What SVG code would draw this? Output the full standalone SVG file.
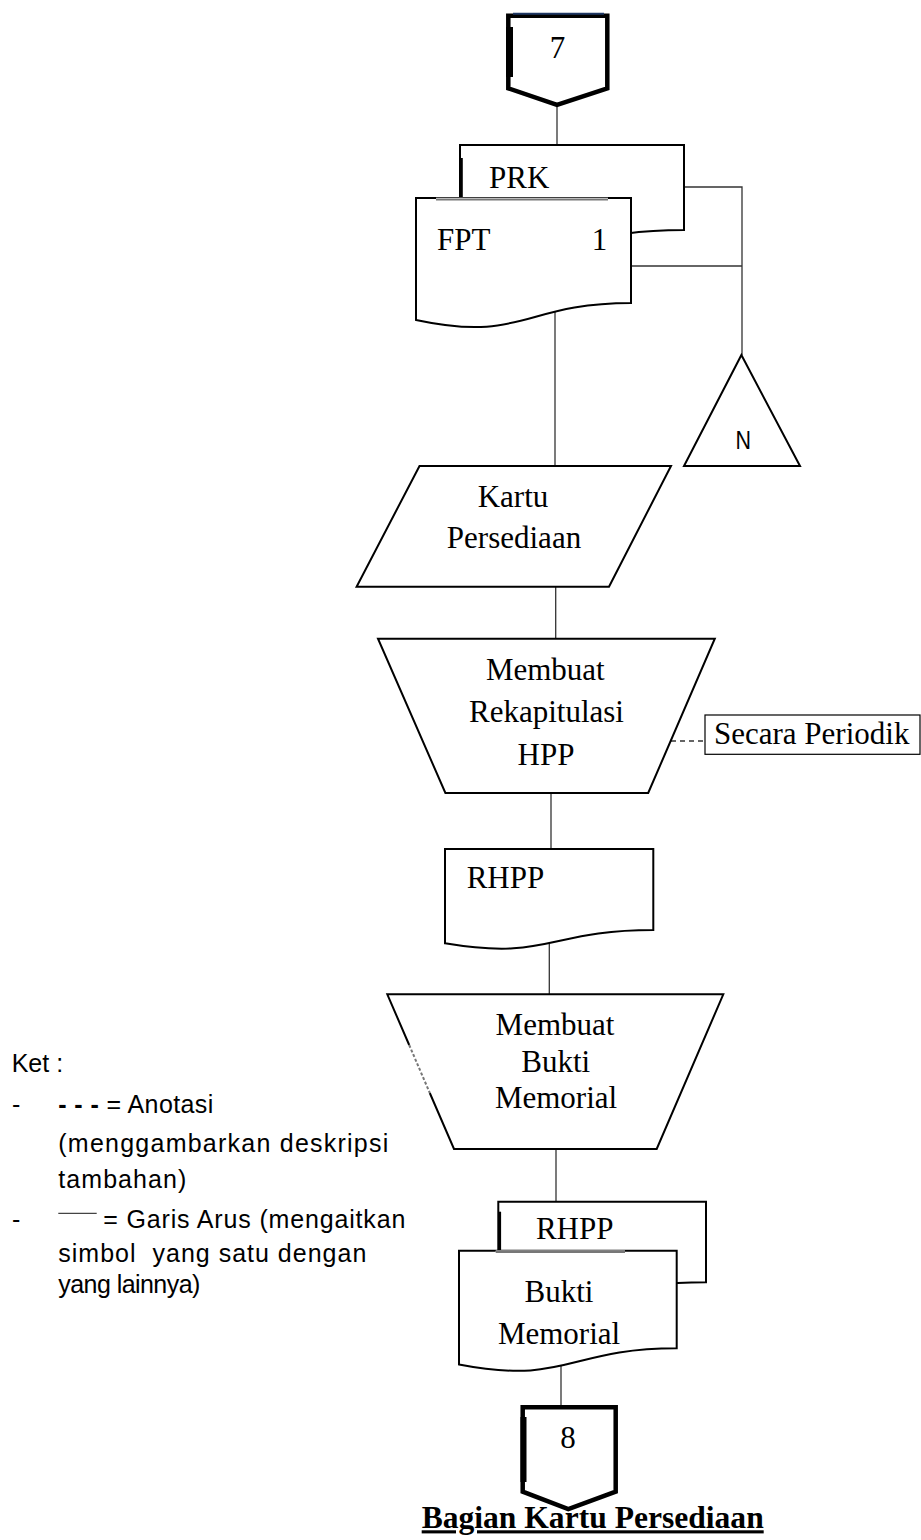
<svg xmlns="http://www.w3.org/2000/svg" width="921" height="1540" viewBox="0 0 921 1540">
<style>
.shape{fill:#fff;stroke:#000;stroke-width:2;stroke-linejoin:miter}
.conn{fill:none;stroke:#000;stroke-width:4.5;stroke-linejoin:miter}
.ln{fill:none;stroke:#333;stroke-width:1.3}
.gray{fill:none;stroke:#777;stroke-width:2}
.t{font-family:"Liberation Serif","Times New Roman",serif;font-size:31px;fill:#000}
.c{text-anchor:middle}
.leg{font-family:"Liberation Sans",Arial,sans-serif;font-size:25px;fill:#000}
</style>
<rect width="921" height="1540" fill="#fff"/>
<g id="connectors">
<line class="ln" x1="557" y1="105" x2="557" y2="145"/>
<polyline class="ln" points="684,187 742,187 742,355"/>
<line class="ln" x1="631" y1="266" x2="742" y2="266"/>
<line class="ln" x1="555" y1="305" x2="555" y2="466"/>
<line class="ln" x1="555.7" y1="587" x2="555.7" y2="639"/>
<line class="ln" x1="551" y1="793" x2="551" y2="849"/>
<line class="ln" x1="549.3" y1="935" x2="549.3" y2="994.3"/>
<line class="ln" x1="556" y1="1149" x2="556" y2="1201.7"/>
<line class="ln" x1="561" y1="1360" x2="561" y2="1407"/>
<line class="ln" x1="671" y1="741" x2="705" y2="741" stroke-dasharray="5,4"/>
</g>
<g id="n7">
<path class="conn" d="M508.3,15.7 L607.3,15.7 L607.3,88.3 L557,105 L508.3,88.3 Z"/>
<rect x="506" y="27" width="7" height="50" fill="#000"/>
<line x1="513" y1="13.8" x2="604" y2="13.8" stroke="#1f3864" stroke-width="2"/>
<text class="t c" x="557.5" y="58">7</text>
</g>
<g id="prk">
<path class="shape" d="M460,198 L460,145 L684,145 L684,230 C572,230 572,262 460,244"/>
<line x1="461.3" y1="158" x2="461.3" y2="198" stroke="#000" stroke-width="3"/>
<text class="t" x="489" y="188">PRK</text>
</g>
<g id="fpt">
<path class="shape" d="M416,198 L631,198 L631,303 C523.5,303 523.5,343 416,320 Z"/>
<line x1="436" y1="199" x2="608" y2="199" stroke="#fff" stroke-width="2.5"/>
<line class="gray" x1="436" y1="199.5" x2="608" y2="199.5"/>
<text class="t" x="437" y="250">FPT</text>
<text class="t" x="591.7" y="250">1</text>
</g>
<g id="nTriangle">
<path class="shape" d="M741.4,355 L800,466 L684,466 Z"/>
<text x="735.5" y="449" font-family="Liberation Sans, Arial, sans-serif" font-size="26" textLength="15.5" lengthAdjust="spacingAndGlyphs">N</text>
</g>
<g id="kartu">
<path class="shape" d="M419.5,466 L671,466 L609,586.7 L356.6,586.7 Z"/>
<text class="t c" x="513" y="506.7">Kartu</text>
<text class="t c" x="514" y="548">Persediaan</text>
</g>
<g id="rekap">
<path class="shape" d="M378,638.7 L714.8,638.7 L648.2,793 L445.4,793 Z"/>
<text class="t c" x="545.3" y="680">Membuat</text>
<text class="t c" x="546.5" y="721.7">Rekapitulasi</text>
<text class="t c" x="546" y="765">HPP</text>
</g>
<g id="annot">
<rect x="705" y="715" width="215" height="39.3" fill="#fff" stroke="#000" stroke-width="1.2"/>
<text class="t" x="714" y="744">Secara Periodik</text>
</g>
<g id="rhpp1">
<path class="shape" d="M445,849 L653.3,849 L653.3,930 C549,930 549,960.8 445,943.3 Z"/>
<text class="t" x="466.7" y="888.3">RHPP</text>
</g>
<g id="bukti">
<path class="shape" d="M409.2,1045 L387.3,994.3 L723.3,994.3 L656.7,1149 L454,1149 L429.8,1093"/>
<line x1="409.2" y1="1045" x2="429.8" y2="1093" stroke="#777" stroke-width="2" stroke-dasharray="3,2"/>
<text class="t c" x="555" y="1035">Membuat</text>
<text class="t c" x="555.7" y="1071.7">Bukti</text>
<text class="t c" x="556" y="1108.3">Memorial</text>
</g>
<g id="rhpp2">
<path class="shape" d="M498.3,1251 L498.3,1201.7 L706,1201.7 L706,1282.3 C602,1282.3 602,1312 498.3,1295"/>
<line x1="499.6" y1="1211.7" x2="499.6" y2="1251" stroke="#000" stroke-width="3"/>
<text class="t c" x="574.7" y="1239.3">RHPP</text>
</g>
<g id="bm">
<path class="shape" d="M459,1250.7 L676.7,1250.7 L676.7,1348.3 C567.8,1348.3 567.8,1385.4 459,1364.4 Z"/>
<line x1="495.7" y1="1251.7" x2="625" y2="1251.7" stroke="#fff" stroke-width="2.5"/>
<line class="gray" x1="495.7" y1="1252" x2="625" y2="1252"/>
<text class="t c" x="559" y="1301.7">Bukti</text>
<text class="t c" x="559" y="1344.3">Memorial</text>
</g>
<g id="n8">
<path class="conn" d="M522.7,1407.3 L615.7,1407.3 L615.7,1491.7 L568.3,1509 L522.7,1491.7 Z"/>
<rect x="520.5" y="1417" width="6" height="65" fill="#000"/>
<text class="t c" x="568" y="1448.3">8</text>
</g>
<g id="title">
<text class="t" x="421.7" y="1528.3" font-weight="bold" text-decoration="underline" textLength="342" lengthAdjust="spacingAndGlyphs">Bagian Kartu Persediaan</text>
</g>
<g id="legend">
<text class="leg" x="11.7" y="1071.7">Ket :</text>
<text class="leg" x="12" y="1113.3">-</text>
<text class="leg" x="58.3" y="1113.3" textLength="155" lengthAdjust="spacing"><tspan font-weight="bold">- - -</tspan> = Anotasi</text>
<text class="leg" x="58.3" y="1151.7" textLength="330" lengthAdjust="spacing">(menggambarkan deskripsi</text>
<text class="leg" x="58.3" y="1188.3" textLength="128" lengthAdjust="spacing">tambahan)</text>
<text class="leg" x="12" y="1228.3">-</text>
<line x1="58.3" y1="1213.3" x2="96.7" y2="1213.3" stroke="#444" stroke-width="1.2"/>
<text class="leg" x="103.3" y="1228.3" textLength="302" lengthAdjust="spacing">= Garis Arus (mengaitkan</text>
<text class="leg" x="58.3" y="1261.7" textLength="308" lengthAdjust="spacing" xml:space="preserve">simbol  yang satu dengan</text>
<text class="leg" x="58.3" y="1293.3" textLength="142" lengthAdjust="spacing">yang lainnya)</text>
</g>
</svg>
